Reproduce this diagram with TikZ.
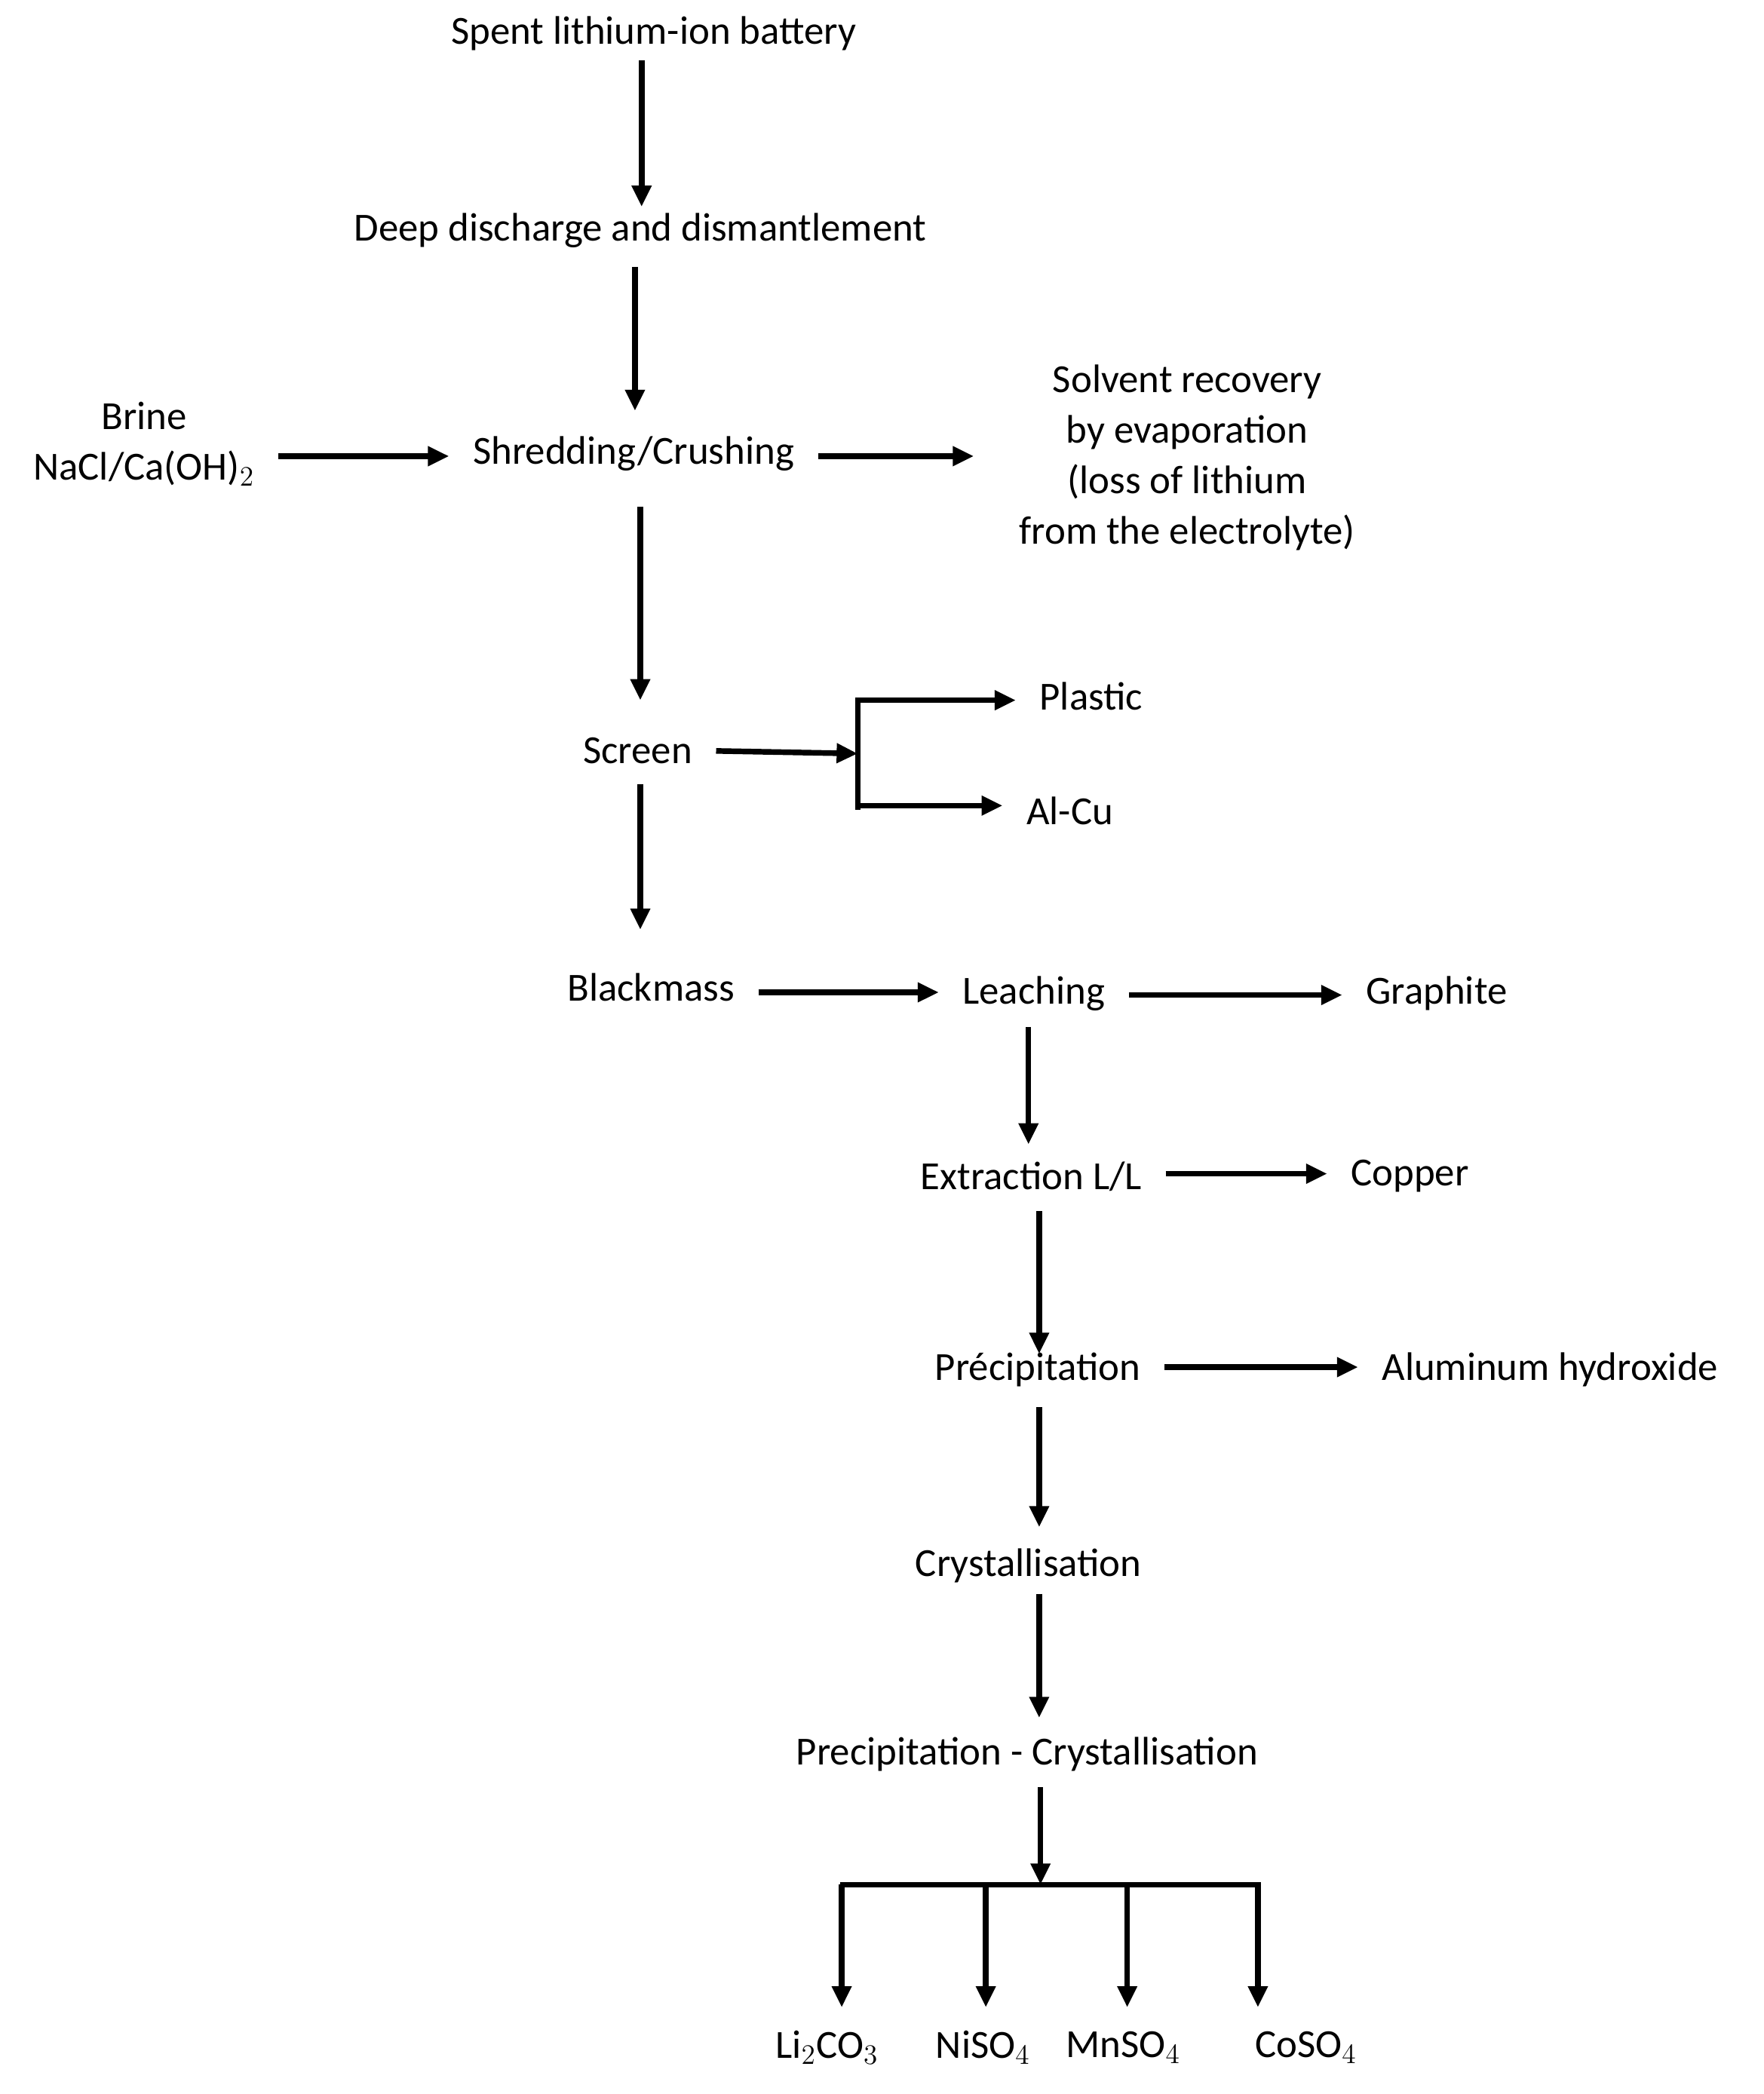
\documentclass[tikz,border=0pt]{standalone}
\usepackage{fontspec}
\setmainfont{Carlito}
\usetikzlibrary{arrows.meta,positioning}

\begin{document}
\begin{tikzpicture}[x=0.02cm, y=-0.02cm, font=\fontsize{17}{21.5}\selectfont,
    arr/.style={-{Triangle[length=9pt,width=8pt]}, line width=2.4pt},
    bar/.style={line width=2.4pt},
    stage/.style={inner sep=10pt, align=center}]
\useasboundingbox (0,0) rectangle (1322,1570);
\node [stage] (spent)  at (490,25)   {Spent lithium-ion battery};
\node [stage] (deep)   at (480,173)  {Deep discharge and dismantlement};
\node [stage] (shred)  at (475,340)  {Shredding/Crushing};
\node [stage] (brine)  at (108,333)  {Brine\\NaCl/Ca(OH)$_2$};
\node [stage] (solv)   at (890,343)  {Solvent recovery\\by evaporation\\(loss of lithium\\from the electrolyte)};
\node [stage] (screen) at (478,563)  {Screen};
\node [stage] (plast)  at (818,522)  {Plastic};
\node [stage] (alcu)   at (802,608)  {Al-Cu};
\node [stage] (black)  at (488,740)  {Blackmass};
\node [stage] (leach)  at (775,745)  {Leaching};
\node [stage] (graph)  at (1077,745) {Graphite};
\node [stage] (extr)   at (773,882)  {Extraction L/L};
\node [stage] (copper) at (1057,882) {Copper};
\node [stage] (prec)   at (778,1027) {Précipitation};
\node [stage] (alum)   at (1162,1027){Aluminum hydroxide};
\node [stage] (cryst)  at (771,1174) {Crystallisation};
\node [stage] (pc)     at (770,1315) {Precipitation - Crystallisation};
\node [inner sep=2pt] (li) at (620,1535) {Li$_2$CO$_3$};
\node [inner sep=2pt] (ni) at (737,1535) {NiSO$_4$};
\node [inner sep=2pt] (mn) at (842,1535) {MnSO$_4$};
\node [inner sep=2pt] (co) at (979,1535) {CoSO$_4$};
\coordinate (fork) at (643,565);
\coordinate (hub) at (780,1413);

% main line
\draw [arr] (481,45) -- (481,155);
\draw [arr] (476,200) -- (476,308);
\draw [arr] (brine.east |- 0,342) -- (shred.west |- 0,342);
\draw [arr] (shred.east |- 0,342) -- (730,342);
\draw [arr] (480,380) -- (480,525);
\draw [arr] (screen.east) -- (fork);
\draw [bar] (643,523) -- (643,607);
\draw [arr] (643,525) -- (plast.west |- 0,525);
\draw [arr] (643,604) -- (alcu.west |- 0,604);
\draw [arr] (480,588) -- (480,697);
\draw [arr] (black.east |- 0,744) -- (leach.west |- 0,744);
\draw [arr] (leach.east |- 0,746) -- (graph.west |- 0,746);
\draw [arr] (771,770) -- (771,858);
\draw [arr] (extr.east |- 0,880) -- (copper.west |- 0,880);
\draw [arr] (779,908) -- (779,1015);
\draw [arr] (prec.east |- 0,1025) -- (alum.west |- 0,1025);
\draw [arr] (779,1055) -- (779,1145);
\draw [arr] (779,1195) -- (779,1288);
\draw [arr] (780,1340) -- (hub);
\draw [bar] (630,1413) -- (945,1413);
\foreach \p/\x in {li/631, ni/739, mn/845, co/943}
  \draw [arr] (\x,1413) -- (\x,1505);
\end{tikzpicture}
\end{document}
